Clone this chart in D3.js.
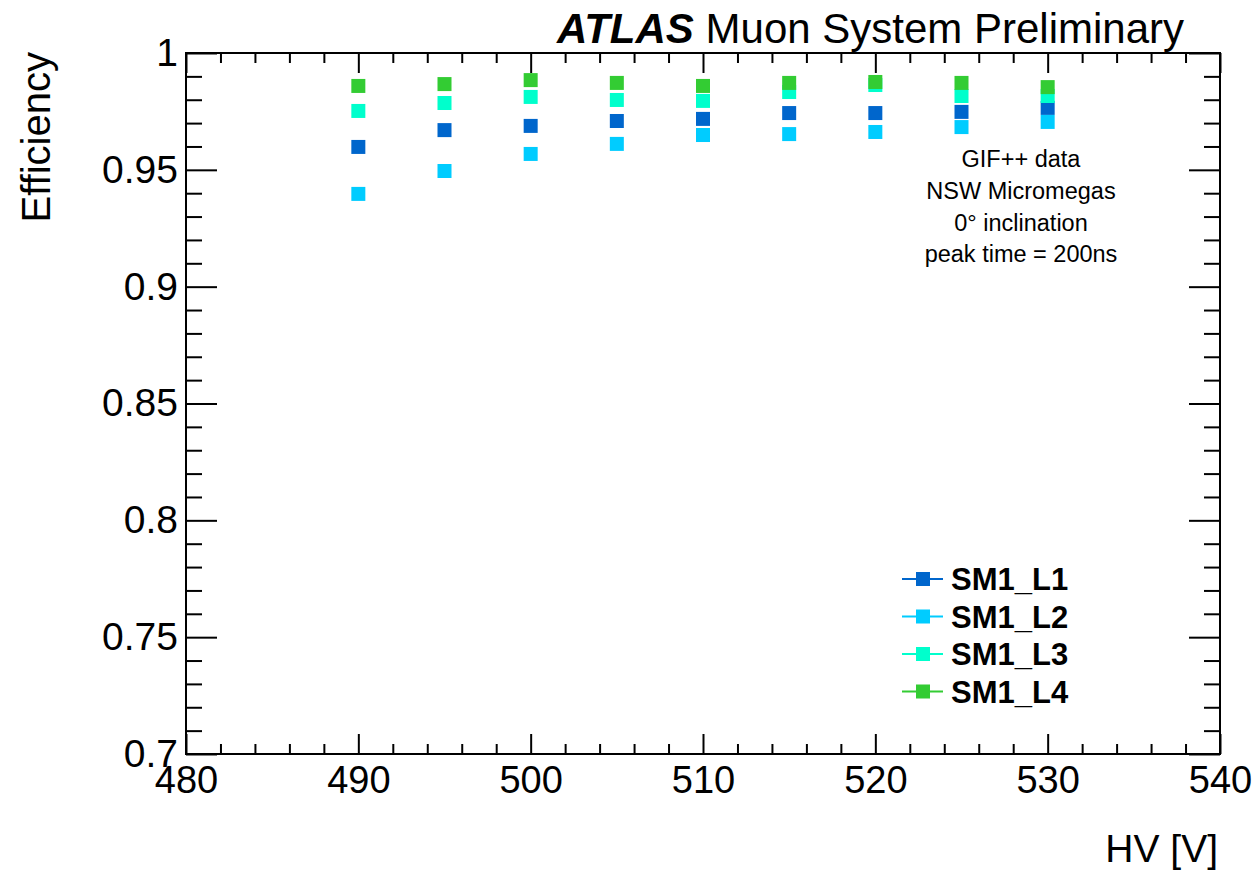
<!DOCTYPE html>
<html>
<head>
<meta charset="utf-8">
<script src="https://cdn.jsdelivr.net/npm/d3@7"></script>
<style>
  html, body { margin: 0; padding: 0; background: #fff; }
  svg { display: block; font-family: "Liberation Sans", Arial, Helvetica, sans-serif; }
</style>
</head>
<body>
<svg id="chart" width="1257" height="873"></svg>
<script>
// ---- data ----
const hv = [490, 495, 500, 505, 510, 515, 520, 525, 530];
const seriesNames = ["SM1_L1", "SM1_L2", "SM1_L3", "SM1_L4"];
const effL1 = [0.9598, 0.9670, 0.9688, 0.9709, 0.9718, 0.9743, 0.9743, 0.9748, 0.9765];
const effL2 = [0.9397, 0.9495, 0.9568, 0.9611, 0.9649, 0.9653, 0.9662, 0.9683, 0.9705];
const effL3 = [0.9752, 0.9786, 0.9812, 0.9799, 0.9795, 0.9833, 0.9863, 0.9816, 0.9816];
const effL4 = [0.9859, 0.9867, 0.9884, 0.9872, 0.9859, 0.9872, 0.9876, 0.9872, 0.9854];
const colors = ["#0066cc", "#00ccff", "#00ffcc", "#33cc33"];
const xTickLabels = [480, 490, 500, 510, 520, 530, 540];
const yTickLabels = [0.7, 0.75, 0.8, 0.85, 0.9, 0.95, 1];
const infoLines = ["GIF++ data", "NSW Micromegas", "0\u00b0 inclination", "peak time = 200ns"];

const series = [effL1, effL2, effL3, effL4].map((vals, i) => ({
  name: seriesNames[i], color: colors[i],
  points: hv.map((x, j) => ({ x, y: vals[j] }))
}));

// ---- layout ----
const svg = d3.select("#chart");
const L = 186, R = 1220, T = 53, B = 754;
const x = d3.scaleLinear().domain([480, 540]).range([L, R]);
const y = d3.scaleLinear().domain([0.7, 1.0]).range([B, T]);

const xMinor = d3.range(480, 540.001, 2).filter(v => v % 10 !== 0);
const yMinor = d3.range(70, 100.001, 1).map(v => v / 100).filter(v => Math.round(v * 100) % 5 !== 0);

function styleAxis(g) {
  g.select(".domain").remove();
  g.selectAll(".tick line").attr("stroke", "#000").attr("stroke-width", 2);
}

// bottom axis
svg.append("g").attr("transform", `translate(0,${B})`)
  .call(d3.axisBottom(x).tickValues(xTickLabels).tickSize(-20).tickPadding(12).tickFormat(d3.format("d")))
  .call(styleAxis)
  .call(g => g.selectAll("text").attr("font-size", 38).attr("fill", "#000").attr("font-family", "Liberation Sans, Arial, sans-serif"));
svg.append("g").attr("transform", `translate(0,${B})`)
  .call(d3.axisBottom(x).tickValues(xMinor).tickSize(-10).tickFormat(""))
  .call(styleAxis);
// top axis
svg.append("g").attr("transform", `translate(0,${T})`)
  .call(d3.axisTop(x).tickValues(xTickLabels).tickSize(-20).tickFormat(""))
  .call(styleAxis);
svg.append("g").attr("transform", `translate(0,${T})`)
  .call(d3.axisTop(x).tickValues(xMinor).tickSize(-10).tickFormat(""))
  .call(styleAxis);
// left axis
svg.append("g").attr("transform", `translate(${L},0)`)
  .call(d3.axisLeft(y).tickValues(yTickLabels).tickSize(-31).tickPadding(8).tickFormat(d => String(+d.toFixed(2))))
  .call(styleAxis)
  .call(g => g.selectAll("text").attr("font-size", 39).attr("fill", "#000").attr("font-family", "Liberation Sans, Arial, sans-serif"));
svg.append("g").attr("transform", `translate(${L},0)`)
  .call(d3.axisLeft(y).tickValues(yMinor).tickSize(-16).tickFormat(""))
  .call(styleAxis);
// right axis
svg.append("g").attr("transform", `translate(${R},0)`)
  .call(d3.axisRight(y).tickValues(yTickLabels).tickSize(-31).tickFormat(""))
  .call(styleAxis);
svg.append("g").attr("transform", `translate(${R},0)`)
  .call(d3.axisRight(y).tickValues(yMinor).tickSize(-16).tickFormat(""))
  .call(styleAxis);

// frame
svg.append("rect").attr("x", L).attr("y", T).attr("width", R - L).attr("height", B - T)
  .attr("fill", "none").attr("stroke", "#000").attr("stroke-width", 2);

// data markers
const ms = 14;
series.forEach(s => {
  svg.append("g").selectAll("rect").data(s.points).join("rect")
    .attr("x", d => x(d.x) - ms / 2).attr("y", d => y(d.y) - ms / 2)
    .attr("width", ms).attr("height", ms).attr("fill", s.color);
});

// axis titles
svg.append("text").attr("transform", "translate(50,52) rotate(-90)")
  .attr("text-anchor", "end").attr("font-size", 40).text("Efficiency");
svg.append("text").attr("x", 1218).attr("y", 862)
  .attr("text-anchor", "end").attr("font-size", 39).text("HV [V]");

// title
const title = svg.append("text").attr("x", 557).attr("y", 43).attr("font-size", 42);
title.append("tspan").attr("font-weight", "bold").attr("font-style", "italic").text("ATLAS");
title.append("tspan").text(" Muon System Preliminary");

// info text
svg.append("g").selectAll("text").data(infoLines).join("text")
  .attr("x", 1021).attr("y", (d, i) => 167 + i * 31.8)
  .attr("text-anchor", "middle").attr("font-size", 23.5).text(d => d);

// legend
const lg = svg.append("g").selectAll("g").data(series).join("g")
  .attr("transform", (d, i) => `translate(0,${579 + i * 37.5})`);
lg.append("line").attr("x1", 902).attr("x2", 943).attr("y1", 0).attr("y2", 0)
  .attr("stroke", d => d.color).attr("stroke-width", 2);
lg.append("rect").attr("x", 923 - ms / 2).attr("y", -ms / 2).attr("width", ms).attr("height", ms)
  .attr("fill", d => d.color);
lg.append("text").attr("x", 951).attr("y", 11).attr("font-size", 31).attr("font-weight", "bold")
  .text(d => d.name);
</script>
</body>
</html>
